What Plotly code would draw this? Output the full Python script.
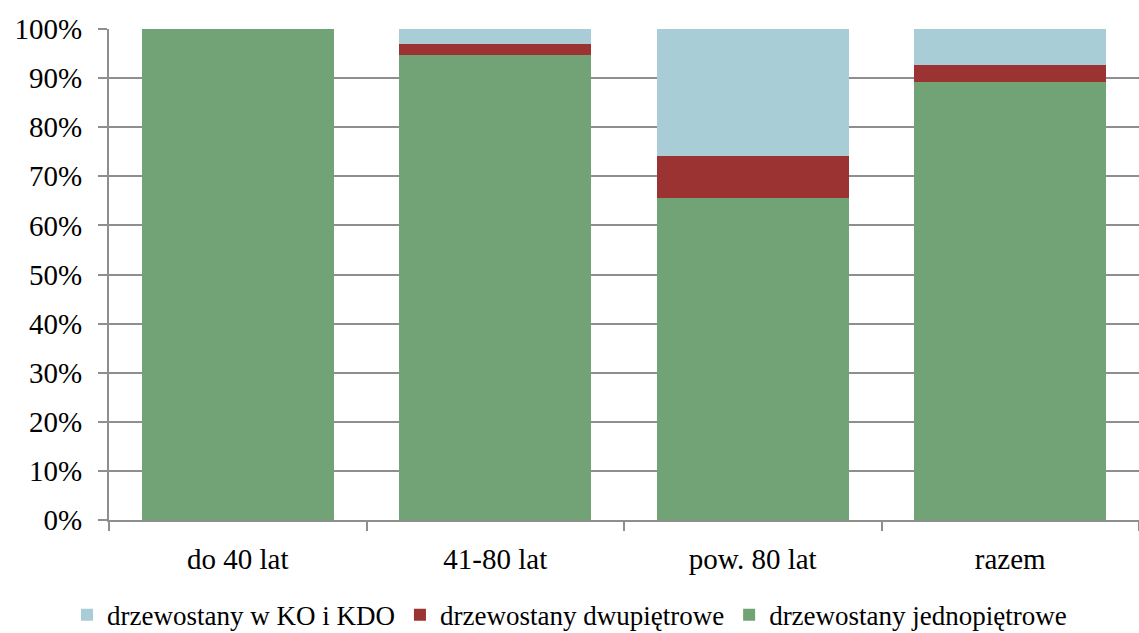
import plotly.graph_objects as go

categories = ["do 40 lat", "41-80 lat", "pow. 80 lat", "razem"]
jednopietrowe = [100.0, 94.7, 65.5, 89.3]
dwupietrowe = [0.0, 2.2, 8.7, 3.3]
ko_kdo = [0.0, 3.1, 25.8, 7.4]

names = ["drzewostany jednopiętrowe", "drzewostany dwupiętrowe", "drzewostany w KO i KDO"]
colors = ["#71A376", "#9C3333", "#A8CDD7"]
series = [jednopietrowe, dwupietrowe, ko_kdo]

fig = go.Figure()
for name, col, vals in zip(names, colors, series):
    fig.add_trace(go.Bar(x=categories, y=vals, name=name, marker_color=col,
                         marker_line_width=0))

font_family = '"Liberation Serif", "DejaVu Serif", serif'
fig.update_layout(
    barmode="stack",
    bargap=0.255,
    width=1139, height=633,
    margin=dict(l=109, r=0, t=29, b=113),
    plot_bgcolor="white", paper_bgcolor="white",
    font=dict(family=font_family, size=29, color="#000000"),
    legend=dict(orientation="h", traceorder="reversed",
                xref="container", yref="container",
                x=0.5, xanchor="center", y=0.028, yanchor="middle",
                font=dict(family=font_family, size=27), itemwidth=30),
    xaxis=dict(showline=True, linecolor="#8E8E8E", linewidth=2,
               ticks="outside", tickson="boundaries", ticklen=9,
               tickcolor="#8E8E8E", tickwidth=2, showgrid=False,
               ticklabelstandoff=12, tickfont=dict(family=font_family)),
    yaxis=dict(range=[0, 100], dtick=10, ticksuffix="%",
               showline=True, linecolor="#8E8E8E", linewidth=2,
               ticks="outside", ticklen=9, tickcolor="#8E8E8E", tickwidth=2,
               showgrid=True, gridcolor="#8E8E8E", gridwidth=2,
               zeroline=False, ticklabelstandoff=10,
               tickfont=dict(family=font_family)),
)
fig.write_html("out.html", config={"displayModeBar": False},
               post_script="document.body.style.margin='0';document.body.style.overflow='hidden';")
